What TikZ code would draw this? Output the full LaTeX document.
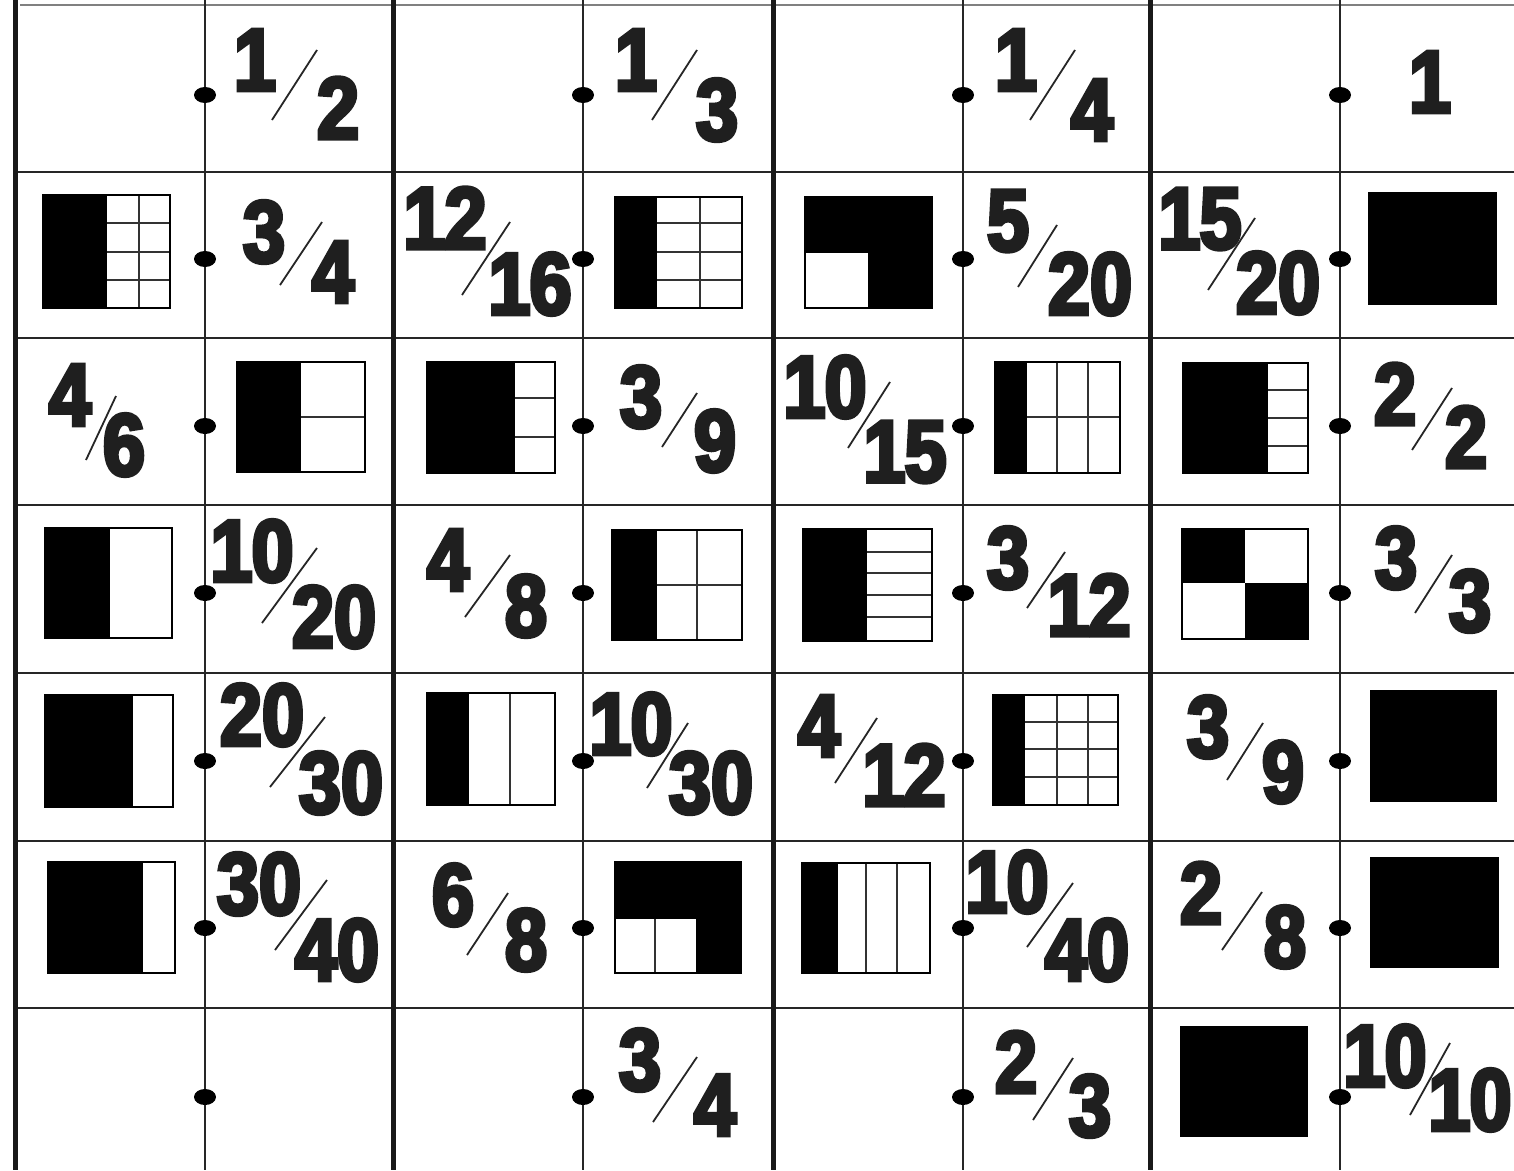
\documentclass[tikz,border=0pt]{standalone}
\usepackage{fontspec}
\newfontfamily\digfont[FakeStretch=0.86,FakeBold=4.5]{Liberation Sans Bold}
\usetikzlibrary{shapes.geometric}
\tikzset{
  thickv/.style={line width=5pt, draw=black!90},
  thinv/.style={line width=2.2pt, draw=black!85},
  hline/.style={line width=2.6pt, draw=black!85},
  topline/.style={line width=2pt, draw=black!50},
  dotn/.style={ellipse, fill=black, inner sep=0pt, minimum width=22pt, minimum height=16pt},
  digit/.style={font=\digfont\fontsize{88}{88}\selectfont, inner sep=0pt, text=black!88},
  slashl/.style={line width=1.8pt, draw=black!85},
  outl/.style={line width=2pt, draw=black},
  divl/.style={line width=1.1pt, draw=black!80},
  blk/.style={fill=black}
}
\newcommand\one{1\kern-1pt}
\newcommand\frc[7]{%
  \node[digit] (#1-n) at (#2) {#3};
  \node[digit] (#1-d) at (#4) {#5};
  \coordinate (#1-a) at (#6);
  \coordinate (#1-b) at (#7);
  \draw[slashl] (#1-a) -- (#1-b);
}
\begin{document}
\begin{tikzpicture}[x=1pt,y=-1pt]
\useasboundingbox (0,0) rectangle (1514,1170);
\fill[white] (0,0) rectangle (1514,1170);

% ---------- grid ----------
\draw[topline] (20,5) -- (1514,5);
\foreach \y in {172,338,505,673,841,1008}
  \draw[hline] (15,\y) -- (1514,\y);
\foreach \x in {15,393,773,1150}
  \draw[thickv] (\x,0) -- (\x,1170);
\foreach \x in {205,583,963,1340}
  \draw[thinv] (\x,0) -- (\x,1170);

% ---------- dots ----------
\foreach \r/\y in {1/95,2/259,3/426,4/593,5/761,6/928,7/1097}
  \foreach \c/\x in {2/205,4/583,6/963,8/1340}
    \node[dotn] (dot-\r-\c) at (\x,\y) {};

% ---------- fractions ----------
% row 1
\frc{f12}{255,60}{1}{338,108}{2}{272,120}{317,50}
\frc{f14}{636,60}{1}{717,110}{3}{652,120}{697,50}
\frc{f16}{1016,60}{1}{1092,110}{4}{1030,120}{1075,50}
\node[digit] (f18) at (1430,82) {1};
% row 2
\frc{f22}{264,232}{3}{333,272}{4}{280,285}{322,222}
\frc{f23}{445,218}{\one2}{530,284}{\one6}{462,295}{510,222}
\frc{f26}{1008,221}{5}{1090,284}{20}{1018,287}{1057,225}
\frc{f27}{1200,219}{\one5}{1278,283}{20}{1208,290}{1255,218}
% row 3
\frc{f31}{70,395}{4}{124,445}{6}{86,460}{116,396}
\frc{f34}{641,397}{3}{715,441}{9}{662,447}{697,393}
\frc{f35}{825,387}{\one0}{905,452}{\one5}{848,448}{890,382}
\frc{f38}{1395,394}{2}{1466,437}{2}{1412,450}{1452,388}
% row 4
\frc{f42}{252,551}{\one0}{334,617}{20}{262,623}{317,548}
\frc{f43}{448,560}{4}{526,606}{8}{465,617}{510,555}
\frc{f46}{1008,558}{3}{1089,605}{\one2}{1027,608}{1065,552}
\frc{f48}{1396,558}{3}{1470,601}{3}{1415,613}{1452,555}
% row 5
\frc{f52}{262,715}{20}{341,783}{30}{270,787}{325,717}
\frc{f54}{631,724}{\one0}{711,783}{30}{647,788}{688,723}
\frc{f55}{819,726}{4}{904,775}{\one2}{835,783}{877,718}
\frc{f57}{1208,727}{3}{1283,772}{9}{1227,780}{1263,723}
% row 6
\frc{f62}{259,884}{30}{337,950}{40}{275,950}{327,880}
\frc{f63}{453,895}{6}{526,940}{8}{467,955}{508,893}
\frc{f66}{1007,882}{\one0}{1087,950}{40}{1027,947}{1073,883}
\frc{f67}{1201,893}{2}{1285,937}{8}{1222,950}{1262,892}
% row 7
\frc{f74}{640,1060}{3}{715,1105}{4}{653,1122}{697,1057}
\frc{f76}{1016,1062}{2}{1090,1106}{3}{1033,1120}{1073,1058}
\frc{f78}{1385,1056}{\one0}{1470,1100}{\one0}{1410,1115}{1450,1043}

% ---------- pictures ----------
% r2c1
\fill[blk] (43,195) rectangle (107,308);
\draw[divl] (139,195) -- (139,308) (107,223) -- (170,223) (107,252) -- (170,252) (107,280) -- (170,280);
\draw[outl] (43,195) rectangle (170,308);
% r2c4
\fill[blk] (615,197) rectangle (657,308);
\draw[divl] (700,197) -- (700,308) (657,223) -- (742,223) (657,252) -- (742,252) (657,280) -- (742,280);
\draw[outl] (615,197) rectangle (742,308);
% r2c5
\fill[blk] (805,197) rectangle (932,308);
\fill[white] (805,253) rectangle (868,308);
\draw[outl] (805,197) rectangle (932,308);
% r2c8
\fill[blk] (1368,192) rectangle (1497,305);
% r3c2
\fill[blk] (237,362) rectangle (301,472);
\draw[divl] (301,417) -- (365,417);
\draw[outl] (237,362) rectangle (365,472);
% r3c3
\fill[blk] (427,362) rectangle (515,473);
\draw[divl] (515,398) -- (555,398) (515,437) -- (555,437);
\draw[outl] (427,362) rectangle (555,473);
% r3c6
\fill[blk] (995,362) rectangle (1027,473);
\draw[divl] (1057,362) -- (1057,473) (1088,362) -- (1088,473) (1027,417) -- (1120,417);
\draw[outl] (995,362) rectangle (1120,473);
% r3c7
\fill[blk] (1183,363) rectangle (1268,473);
\draw[divl] (1268,390) -- (1308,390) (1268,418) -- (1308,418) (1268,446) -- (1308,446);
\draw[outl] (1183,363) rectangle (1308,473);
% r4c1
\fill[blk] (45,528) rectangle (110,638);
\draw[outl] (45,528) rectangle (172,638);
% r4c4
\fill[blk] (612,530) rectangle (657,640);
\draw[divl] (697,530) -- (697,640) (657,585) -- (742,585);
\draw[outl] (612,530) rectangle (742,640);
% r4c5
\fill[blk] (803,529) rectangle (867,641);
\draw[divl] (867,552) -- (932,552) (867,573) -- (932,573) (867,595) -- (932,595) (867,617) -- (932,617);
\draw[outl] (803,529) rectangle (932,641);
% r4c7
\fill[blk] (1182,529) rectangle (1245,583);
\fill[blk] (1245,583) rectangle (1308,639);
\draw[outl] (1182,529) rectangle (1308,639);
% r5c1
\fill[blk] (45,695) rectangle (133,807);
\draw[outl] (45,695) rectangle (173,807);
% r5c3
\fill[blk] (427,693) rectangle (469,805);
\draw[divl] (510,693) -- (510,805);
\draw[outl] (427,693) rectangle (555,805);
% r5c6
\fill[blk] (993,695) rectangle (1025,805);
\draw[divl] (1057,695) -- (1057,805) (1088,695) -- (1088,805) (1025,722) -- (1118,722) (1025,749) -- (1118,749) (1025,777) -- (1118,777);
\draw[outl] (993,695) rectangle (1118,805);
% r5c8
\fill[blk] (1370,690) rectangle (1497,802);
% r6c1
\fill[blk] (48,862) rectangle (143,973);
\draw[outl] (48,862) rectangle (175,973);
% r6c4
\fill[blk] (615,862) rectangle (741,973);
\fill[white] (615,918) rectangle (697,973);
\draw[divl] (655,918) -- (655,973);
\draw[outl] (615,918) -- (697,918) -- (697,973);
\draw[outl] (615,862) rectangle (741,973);
% r6c5
\fill[blk] (802,863) rectangle (838,973);
\draw[divl] (866,863) -- (866,973) (897,863) -- (897,973);
\draw[outl] (802,863) rectangle (930,973);
% r6c8
\fill[blk] (1370,857) rectangle (1499,968);
% r7c7
\fill[blk] (1180,1026) rectangle (1308,1137);
\end{tikzpicture}
\end{document}
